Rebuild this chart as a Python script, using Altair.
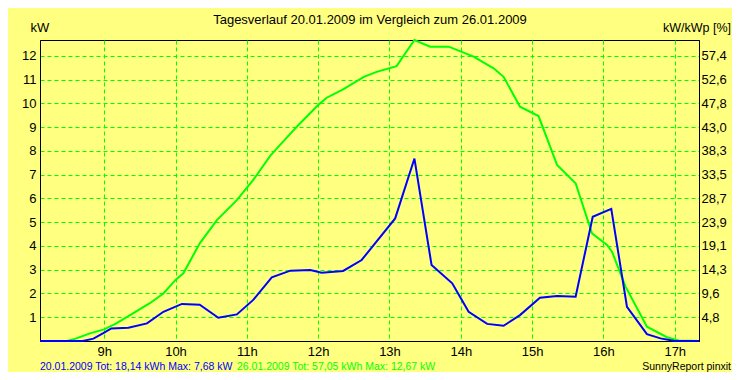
import altair as alt
import pandas as pd

# ---- data ----
hours_green = [8.10, 8.48, 8.60, 8.80, 9.00, 9.17, 9.41, 9.64, 9.83, 10.00, 10.11, 10.34, 10.58,
               10.86, 11.09, 11.33, 11.54, 11.70, 12.00, 12.12, 12.35, 12.64, 12.82, 13.10, 13.35,
               13.57, 13.83, 14.18, 14.46, 14.60, 14.83, 15.09, 15.35, 15.61, 15.84, 16.05, 16.12,
               16.31, 16.61, 16.89, 17.05, 17.34]
kw_green = [0, 0, 0.10, 0.32, 0.49, 0.74, 1.17, 1.59, 2.00, 2.57, 2.85, 4.11, 5.09,
            5.93, 6.78, 7.80, 8.50, 9.02, 9.93, 10.24, 10.59, 11.12, 11.33, 11.57, 12.67,
            12.39, 12.39, 11.97, 11.48, 11.12, 9.86, 9.47, 7.41, 6.64, 4.53, 4.04, 3.76,
            2.29, 0.60, 0.16, 0.02, 0]

hours_blue = [8.10, 8.70, 8.85, 9.00, 9.10, 9.34, 9.60, 9.83, 10.09, 10.34, 10.60, 10.86, 11.09,
              11.35, 11.61, 11.89, 12.05, 12.35, 12.61, 13.08, 13.35, 13.59, 13.88, 14.11, 14.37,
              14.60, 14.83, 15.11, 15.35, 15.61, 15.85, 16.11, 16.33, 16.61, 16.80, 17.00, 17.34]
kw_blue = [0, 0, 0.10, 0.35, 0.53, 0.56, 0.74, 1.23, 1.56, 1.53, 0.98, 1.12, 1.73,
           2.68, 2.96, 2.99, 2.87, 2.95, 3.41, 5.16, 7.68, 3.20, 2.43, 1.23, 0.72,
           0.64, 1.09, 1.82, 1.89, 1.86, 5.23, 5.56, 1.44, 0.29, 0.11, 0, 0]

x_ticks = [9, 10, 11, 12, 13, 14, 15, 16, 17]
y_ticks = [1, 2, 3, 4, 5, 6, 7, 8, 9, 10, 11, 12]
right_labels = ["4,8", "9,6", "14,3", "19,1", "23,9", "28,7", "33,5", "38,3",
                "43,0", "47,8", "52,6", "57,4"]

title_text = "Tagesverlauf 20.01.2009 im Vergleich zum 26.01.2009"
left_title = "kW"
right_title = "kW/kWp [%]"
legend_blue = "20.01.2009 Tot: 18,14 kWh Max: 7,68 kW"
legend_green = "26.01.2009 Tot: 57,05 kWh Max: 12,67 kW"
credit = "SunnyReport pinxit"

# ---- style ----
BG = "#FFFF80"
GRID = "#00FF00"
BLUE = "#0000FF"
GREEN = "#00FF00"
FONT = "Liberation Sans"
W, H = 659, 301
x_dom = [8.1, 17.34]
y_dom = [0, 12.67]

green_df = pd.DataFrame({"h": hours_green, "kw": kw_green})
blue_df = pd.DataFrame({"h": hours_blue, "kw": kw_blue})

x_enc = alt.X("h:Q", scale=alt.Scale(domain=x_dom, nice=False, zero=False),
              axis=alt.Axis(values=x_ticks, labelExpr="datum.value + 'h'", title=None,
                            grid=True, gridColor=GRID, gridDash=[4, 3], gridWidth=1,
                            tickSize=0, labelPadding=4, domainColor="black",
                            labelFont=FONT, labelFontSize=13, labelColor="black"))
y_scale = alt.Scale(domain=y_dom, nice=False)
y_left = alt.Y("kw:Q", scale=y_scale,
               axis=alt.Axis(values=y_ticks, title=None, orient="left", grid=True,
                             gridColor=GRID, gridDash=[4, 3], gridWidth=1, tickSize=0,
                             labelPadding=4, domainColor="black", labelFont=FONT,
                             labelFontSize=13, labelColor="black"))

lbl_array = "[" + ",".join("'" + s + "'" for s in right_labels) + "]"
y_right = alt.Y("kw:Q", scale=y_scale,
                axis=alt.Axis(values=y_ticks, title=None, orient="right", grid=False,
                              tickSize=0, labelPadding=2, domainColor="black",
                              labelExpr=lbl_array + "[datum.value - 1]",
                              labelFont=FONT, labelFontSize=13, labelColor="black"))

green_line = alt.Chart(green_df).mark_line(color=GREEN, strokeWidth=2).encode(x=x_enc, y=y_left)
blue_line = alt.Chart(blue_df).mark_line(color=BLUE, strokeWidth=2).encode(x=x_enc, y=y_left)
lines = alt.layer(green_line, blue_line)

right_axis = alt.Chart(blue_df).mark_line(opacity=0).encode(x=x_enc, y=y_right)


def label(txt, x, y, color="black", size=13, align="center"):
    return alt.Chart(pd.DataFrame({"t": [txt]})).mark_text(
        font=FONT, fontSize=size, color=color, align=align, baseline="alphabetic"
    ).encode(text="t:N", x=alt.value(x), y=alt.value(y))


texts = [
    label(title_text, 330, -16),
    label(left_title, 0, -8),
    label(right_title, 691, -8, size=12.5, align="right"),
    label(legend_blue, 0, 330, color=BLUE, size=10.5, align="left"),
    label(legend_green, 197, 330, color=GREEN, size=10.5, align="left"),
    label(credit, 691, 330, size=10.5, align="right"),
]

chart = alt.layer(lines, right_axis, *texts).resolve_scale(y="independent").properties(
    width=W, height=H,
    autosize=alt.AutoSizeParams(type="none"),
    padding={"left": 32, "top": 32, "right": 33, "bottom": 31},
    background=BG,
).configure_view(stroke="black", strokeWidth=1)

chart.save("out.html", embed_options={"renderer": "svg", "actions": False})
